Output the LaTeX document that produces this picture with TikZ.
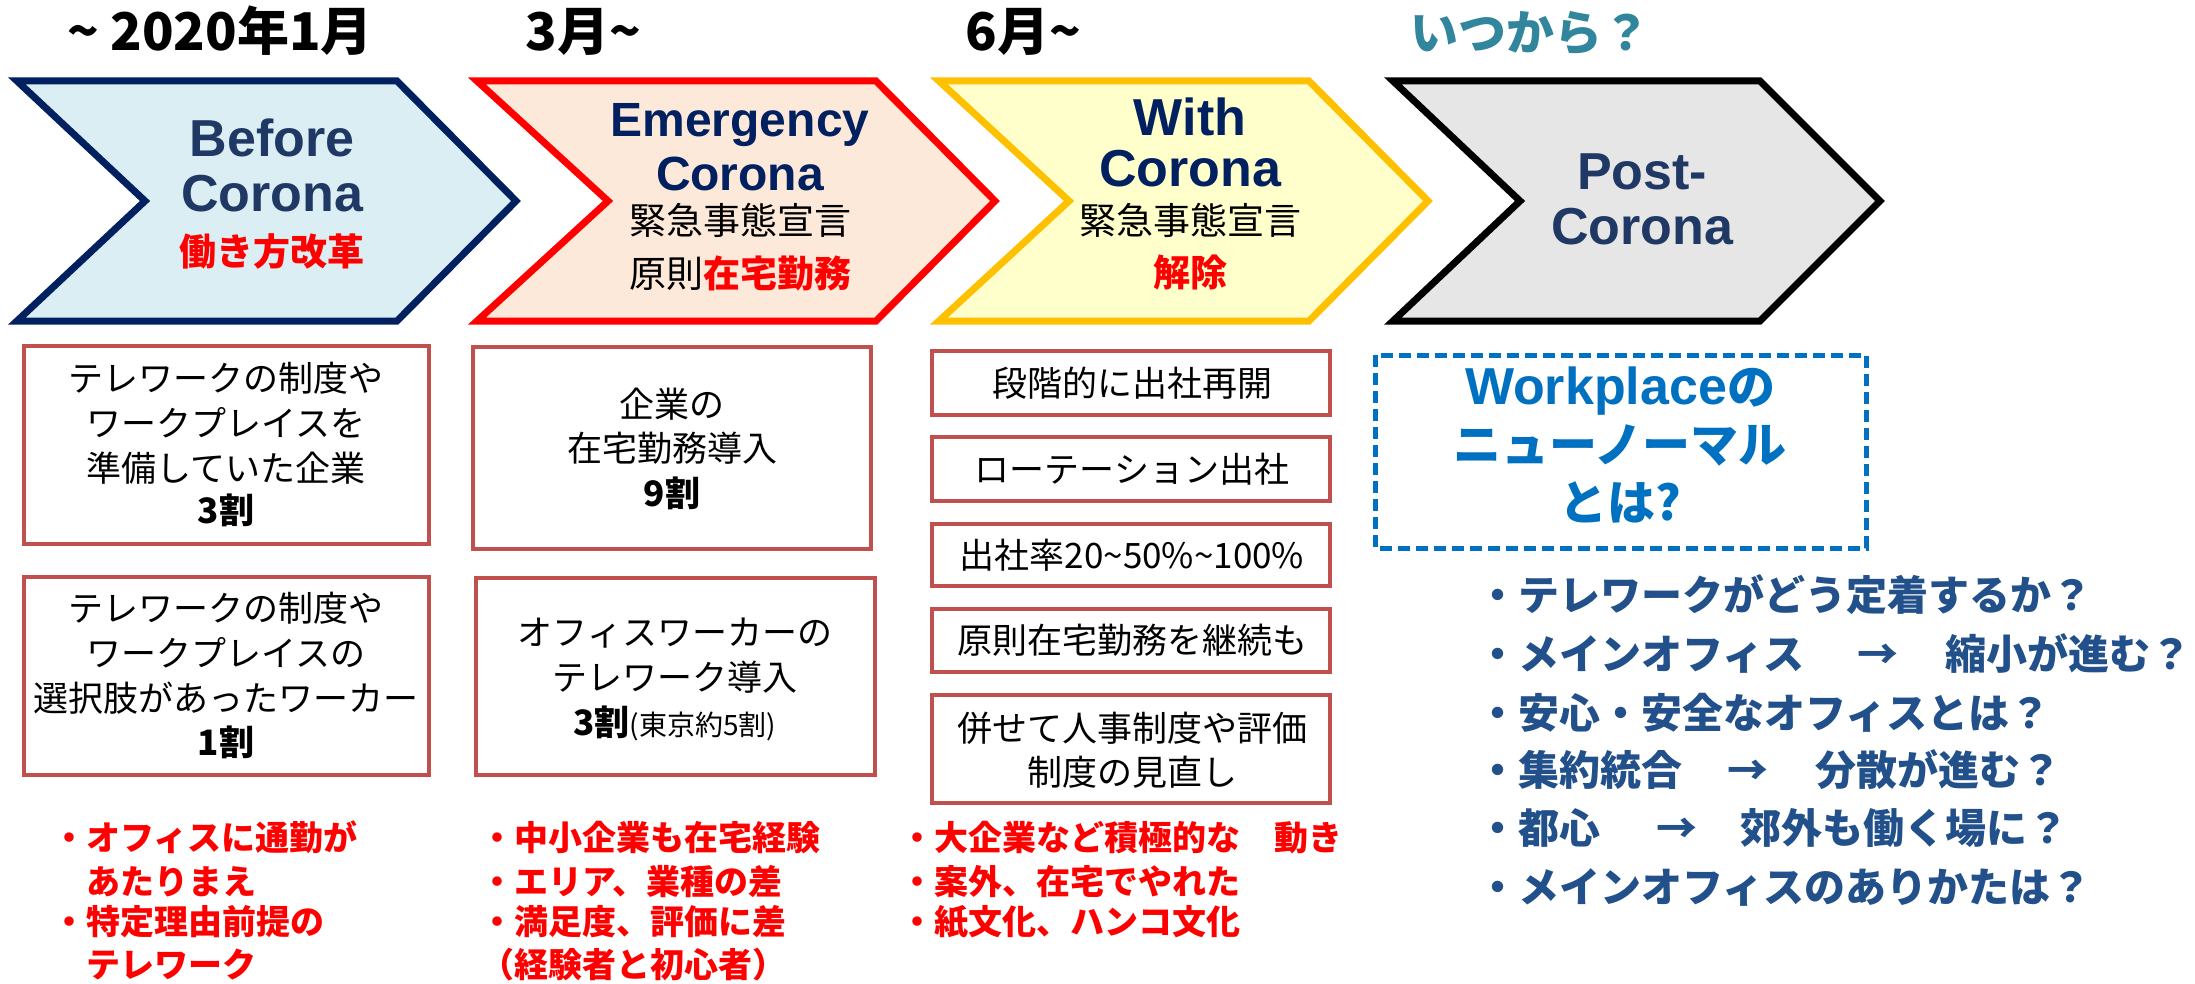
\documentclass[tikz,border=0pt]{standalone}
\usepackage{fontspec}
\setmainfont{Liberation Sans}
\newfontfamily\jp{Noto Sans CJK JP}
\newcommand\myfs[1]{\fontsize{#1}{#1}\selectfont}
\definecolor{navy}{HTML}{002060}
\definecolor{chtext}{HTML}{1F3864}
\definecolor{lblue}{HTML}{DAEEF3}
\definecolor{peach}{HTML}{FDE9D9}
\definecolor{lyellow}{HTML}{FFFFCC}
\definecolor{lgrey}{HTML}{E6E6E6}
\definecolor{gold}{HTML}{FFC000}
\definecolor{boxred}{HTML}{C0504D}
\definecolor{wpblue}{HTML}{0070C0}
\definecolor{bulblue}{HTML}{22508A}
\definecolor{teal}{HTML}{31859C}
\begin{document}
\begin{tikzpicture}[x=0.5pt,y=-0.5pt,
  every node/.style={inner sep=0pt, outer sep=0pt},
  chevron/.style={line width=3.5pt, line join=miter},
  title/.style={font=\jp\bfseries\myfs{26}, anchor=base},
  enA/.style={font=\bfseries\myfs{26}, anchor=base},
  enB/.style={font=\bfseries\myfs{24}, anchor=base},
  jpc/.style={font=\jp\myfs{18.5}, anchor=base},
  jpcb/.style={font=\jp\bfseries\myfs{18.5}, anchor=base, text=red},
  boxframe/.style={draw=boxred, line width=2.25pt, fill=white},
  bt/.style={font=\jp\myfs{17.5}, anchor=base},
  btb/.style={font=\jp\bfseries\myfs{17.5}, anchor=base},
  note/.style={font=\jp\bfseries\myfs{17}, text=red, anchor=base west},
  bul/.style={font=\jp\bfseries\myfs{20.5}, text=bulblue, anchor=base west},
  bularr/.style={font=\jp\bfseries\myfs{20.5}, text=bulblue, anchor=base},
  wp/.style={font=\jp\bfseries\myfs{24}, text=wpblue, anchor=base}
]
\useasboundingbox (0,0) rectangle (2195,984);

% titles
\node[title] (t1) at (220,51) {\textasciitilde\ 2020年1月};
\node[title] (t2) at (583,51) {3月\textasciitilde};
\node[title] (t3) at (1023,51) {6月\textasciitilde};
\node[title, text=teal, font=\jp\bfseries\myfs{24}] (t4) at (1530,51) {いつから？};

% chevrons
\draw[chevron, draw=navy, fill=lblue] (17,81) -- (397,81) -- (516,201) -- (397,321) -- (17,321) -- (145,201) -- cycle;
\draw[chevron, draw=red, fill=peach] (477,81) -- (876,81) -- (995,201) -- (876,321) -- (477,321) -- (608,201) -- cycle;
\draw[chevron, draw=gold, fill=lyellow] (939,81) -- (1309,81) -- (1428,201) -- (1309,321) -- (939,321) -- (1069,201) -- cycle;
\draw[chevron, draw=black, fill=lgrey] (1393,81) -- (1760,81) -- (1880,201) -- (1760,321) -- (1393,321) -- (1520,201) -- cycle;

% chevron texts
\node[enA, text=chtext] (c1a) at (272,157) {Before};
\node[enA, text=chtext] (c1b) at (272,212) {Corona};
\node[jpcb] (c1c) at (272,266) {働き方改革};

\node[enB, text=navy] (c2a) at (740,137) {Emergency};
\node[enB, text=navy] (c2b) at (740,191) {Corona};
\node[jpc] (c2c) at (740,235) {緊急事態宣言};
\node[jpc] (c2d) at (740,287) {原則{\bfseries\color{red}在宅勤務}};

\node[enA, text=navy] (c3a) at (1190,136) {With};
\node[enA, text=navy] (c3b) at (1190,187) {Corona};
\node[jpc] (c3c) at (1190,235) {緊急事態宣言};
\node[jpcb] (c3d) at (1190,286) {解除};

\node[enA, text=chtext] (c4a) at (1642,190) {Post-};
\node[enA, text=chtext] (c4b) at (1642,245) {Corona};

% boxes column A
\draw[boxframe] (24,346) rectangle (429,544);
\node[bt] (a1) at (226,391) {テレワークの制度や};
\node[bt] (a2) at (226,436) {ワークプレイスを};
\node[bt] (a3) at (226,481) {準備していた企業};
\node[btb] (a4) at (226,523) {3割};

\draw[boxframe] (24,577) rectangle (429,775);
\node[bt] (a5) at (226,621) {テレワークの制度や};
\node[bt] (a6) at (226,666) {ワークプレイスの};
\node[bt] (a7) at (226,711) {選択肢があったワーカー};
\node[btb] (a8) at (226,755) {1割};

% boxes column B
\draw[boxframe] (473,347) rectangle (871,549);
\node[bt] (b1) at (672,417) {企業の};
\node[bt] (b2) at (672,461) {在宅勤務導入};
\node[btb] (b3) at (672,506) {9割};

\draw[boxframe] (476,578) rectangle (875,775);
\node[bt] (b4) at (675,645) {オフィスワーカーの};
\node[bt] (b5) at (675,690) {テレワーク導入};
\node[btb] (b6) at (675,735) {3割{\mdseries\myfs{14}(東京約5割)}};

% boxes column C
\draw[boxframe] (932,351) rectangle (1330,415);
\node[bt] (k1) at (1132,396) {段階的に出社再開};
\draw[boxframe] (932,437) rectangle (1330,501);
\node[bt] (k2) at (1132,482) {ローテーション出社};
\draw[boxframe] (932,524) rectangle (1330,586);
\node[bt] (k3) at (1132,568) {出社率20\textasciitilde 50\%\textasciitilde 100\%};
\draw[boxframe] (932,609) rectangle (1330,672);
\node[bt] (k4) at (1132,653) {原則在宅勤務を継続も};
\draw[boxframe] (932,695) rectangle (1330,803);
\node[bt] (k5) at (1132,741) {併せて人事制度や評価};
\node[bt] (k6) at (1132,785) {制度の見直し};

% dashed box
\draw[draw=wpblue, line width=2.5pt, dash pattern=on 6pt off 3pt] (1375,355) rectangle (1866,548);
\node[wp] (w1) at (1620,404) {{\rmfamily\myfs{26}Workplace}の};
\node[wp] (w2) at (1620,462) {ニューノーマル};
\node[wp] (w3) at (1620,520) {とは?};

% bullets
\node[bul] (q1) at (1477,610) {・テレワークがどう定着するか？};
\node[bul] (q2) at (1477,669) {・メインオフィス};
\node[bularr] (q2a) at (1878,669) {→};
\node[bul] (q2b) at (1945,669) {縮小が進む？};
\node[bul] (q3) at (1477,728) {・安心・安全なオフィスとは？};
\node[bul] (q4) at (1477,785) {・集約統合};
\node[bularr] (q4a) at (1748,785) {→};
\node[bul] (q4b) at (1815,785) {分散が進む？};
\node[bul] (q5) at (1477,843) {・都心};
\node[bularr] (q5a) at (1677,843) {→};
\node[bul] (q5b) at (1740,843) {郊外も働く場に？};
\node[bul] (q6) at (1477,902) {・メインオフィスのありかたは？};

% notes
\node[note] (n1) at (52,850) {・オフィスに通勤が};
\node[note] (n2) at (52,894) {　あたりまえ};
\node[note] (n3) at (52,934) {・特定理由前提の};
\node[note] (n4) at (52,977) {　テレワーク};
\node[note] (n5) at (480,850) {・中小企業も在宅経験};
\node[note] (n6) at (480,894) {・エリア、業種の差};
\node[note] (n7) at (480,934) {・満足度、評価に差};
\node[note] (n8) at (480,977) {（経験者と初心者）};
\node[note] (n9) at (900,850) {・大企業など積極的な　動き};
\node[note] (n10) at (900,894) {・案外、在宅でやれた};
\node[note] (n11) at (900,934) {・紙文化、ハンコ文化};
\end{tikzpicture}
\end{document}
